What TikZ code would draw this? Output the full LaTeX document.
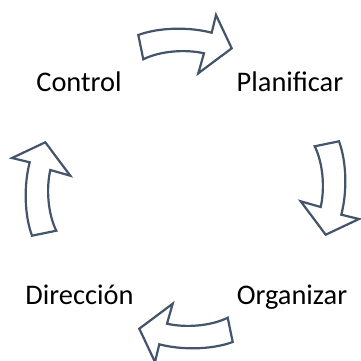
\documentclass[tikz,border=0pt]{standalone}
\usepackage{fontspec}
\setmainfont{Carlito}
\definecolor{arrowgrey}{HTML}{44546A}
\tikzset{
  cyclearrow/.style={draw=arrowgrey, line width=2.2pt, fill=white, line join=miter},
  label/.style={anchor=base, inner sep=0pt, font=\fontsize{28.4}{34}\selectfont, text=black}
}
\begin{document}
\begin{tikzpicture}[x=1pt, y=-1pt]
\useasboundingbox (0,0) rectangle (360,361);
\foreach \a in {0,-90,-180,-270}{
  \begin{scope}[rotate around={\a:(185.5,188.5)}]
    \draw[cyclearrow] (138.3,35) .. controls (160,27) and (190,27) .. (211.7,32.7)
      -- (216,15) -- (231.7,48.3) -- (198.3,73.3) -- (204,53.3)
      .. controls (185,49) and (160,51) .. (143.3,59.3) -- cycle;
  \end{scope}
}
\node[label] (control) at (79,91.5) {Control};
\node[label] (plan) at (290,91.5) {Planificar};
\node[label] (dir) at (79.5,304) {Dirección};
\node[label] (org) at (292,304) {Organizar};
\end{tikzpicture}
\end{document}
